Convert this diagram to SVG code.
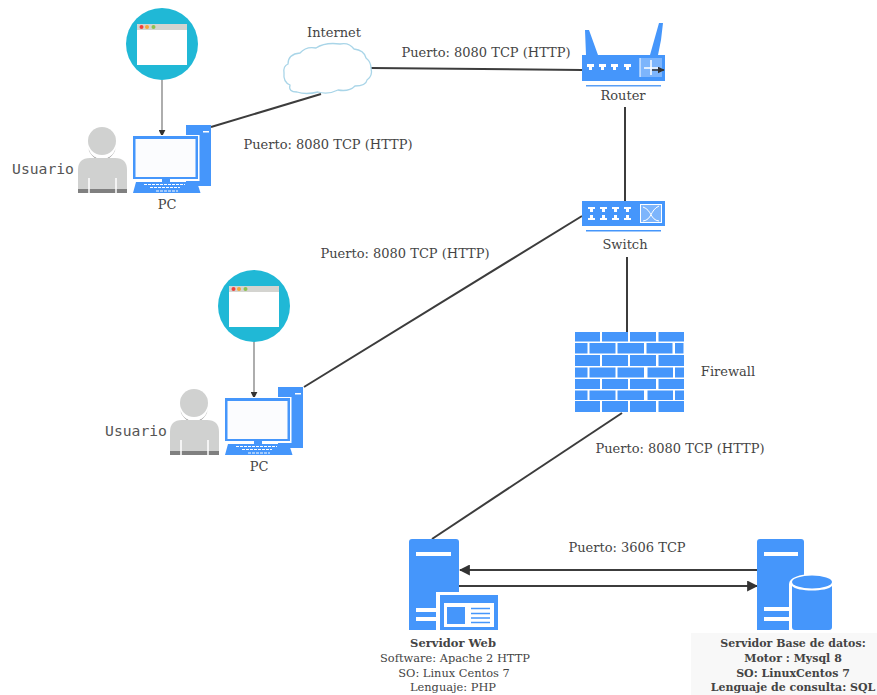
<svg xmlns="http://www.w3.org/2000/svg" width="877" height="695" viewBox="0 0 877 695">
<style>
text{font-family:"DejaVu Serif","Liberation Serif",serif;font-size:13px;fill:#444;text-anchor:middle}
.mono{font-family:"DejaVu Sans Mono","Liberation Mono",monospace;font-size:14.700px;fill:#555}
.b{fill:#4596fb}
.w{fill:#fff}
.bold{font-weight:bold;font-size:11.500px}
.db{font-weight:bold;font-size:11px}
.sm{font-size:11.400px}
.line{fill:none;stroke:#3c3c3c;stroke-width:2}
.thin{fill:none;stroke:#777;stroke-width:1.2}
</style>
<defs>
<marker id="ah" viewBox="0 0 10 10" refX="9" refY="5" markerWidth="7" markerHeight="7" markerUnits="userSpaceOnUse" orient="auto"><path d="M0 0L10 5L0 10Z" fill="#333"/></marker>
<marker id="ahl" viewBox="0 0 10 10" refX="9" refY="5" markerWidth="11" markerHeight="11" markerUnits="userSpaceOnUse" orient="auto"><path d="M0 0L10 5L0 10Z" fill="#333"/></marker>
<g id="browser">
<circle cx="162" cy="44" r="36" fill="#20b8d6"/>
<rect x="137" y="24" width="50" height="41" fill="#fff"/>
<rect x="137" y="24" width="50" height="6" fill="#d4d4d0"/>
<circle cx="141.500" cy="27" r="2" fill="#f0413c"/><circle cx="147" cy="27" r="2" fill="#f3a63a"/><circle cx="153.500" cy="27" r="2" fill="#8cc152"/>
</g>
<g id="person">
<circle cx="102" cy="141" r="14" fill="#d0d1d0"/>
<path d="M88 145a14 14 0 0 0 28 0a14 15 0 0 1-28 0Z" fill="#8c8c8c"/>
<path d="M78 193V170q0-12 12-12h25q12 0 12 12v23Z" fill="#d0d1d0"/>
<rect x="78" y="189" width="49" height="4" fill="#808080"/>
<path d="M89 178V193M116 178V193" stroke="#fff" stroke-width="1.500"/>
</g>
<g id="computer">
<rect x="186" y="125" width="25" height="61" class="b"/>
<rect x="203" y="131" width="6" height="1.500" class="w"/>
<rect x="132" y="135" width="67.500" height="46" fill="#fff"/>
<rect x="133" y="136" width="65" height="43" class="b"/>
<rect x="135.500" y="139" width="60" height="38" fill="#fbfcfe"/>
<rect x="162" y="179" width="8" height="3" class="b"/>
<path d="M136 182H197L200.500 193H133Z" class="b"/>
<path d="M144 184.500H185M150 187.500H180M156 191H178" stroke="#fff" stroke-width="1" stroke-dasharray="3 1"/>
</g>
</defs>

<g id="connectors">
<path class="line" d="M211 127L321 94"/>
<path class="line" d="M371 68L582 70"/>
<path class="line" d="M625 107V201"/>
<path class="line" d="M582 216L304 387"/>
<path class="line" d="M627 257V332"/>
<path class="line" d="M622 413L432 539"/>
<path class="line" d="M757 570H460" marker-end="url(#ahl)"/>
<path class="line" d="M459 586H757" marker-end="url(#ahl)"/>
<path class="thin" d="M162 80V136" marker-end="url(#ah)"/>
<path class="thin" d="M254 342V398" marker-end="url(#ah)"/>
</g>

<g id="browser1"><use href="#browser"/></g>
<g id="usuario1"><use href="#person"/><text class="mono" x="43" y="174">Usuario</text></g>
<g id="pc1"><use href="#computer"/><text x="167" y="209">PC</text></g>

<g id="browser2"><use href="#browser" x="92" y="262"/></g>
<g id="usuario2"><use href="#person" x="92" y="262"/><text class="mono" x="136" y="436">Usuario</text></g>
<g id="pc2"><use href="#computer" x="92" y="262"/><text x="259" y="471">PC</text></g>

<g id="internet">
<path d="M297 92Q288 92 290 85Q283 82 284 73Q283 66 288 64Q288 54 300 53Q306 46 316 48Q325 42 340 44Q349 42 354 49Q364 50 366 58Q371 62 371 68Q373 76 367 80Q366 86 355 86Q349 92 338 90Q328 95 318 92Q306 95 297 92Z" fill="#fff" stroke="#a9d5e8" stroke-width="1.300"/>
<text x="334" y="37">Internet</text>
</g>

<g id="router">
<path d="M586 55L585 30L589 30L598 55ZM650 55L659 23L663 23L661 40L658 55Z" class="b"/>
<rect x="582" y="55" width="83" height="26" class="b"/>
<rect x="640" y="58" width="22" height="19" fill="#7db5fc"/>
<path d="M640 58V77" stroke="#fff"/>
<path d="M651 60V75M644 68H658" stroke="#fff" stroke-width="1.500"/>
<path d="M587 64h7v3h-2v3h-3v-3h-2ZM599 64h7v3h-2v3h-3v-3h-2ZM611 64h7v3h-2v3h-3v-3h-2ZM624 64h7v3h-2v3h-3v-3h-2Z" class="w"/>
<path d="M652 70H664" stroke="#333" stroke-width="1.500" marker-end="url(#ah)"/>
<rect x="586" y="85" width="75" height="1.500" fill="#5a9ff5"/>
<text x="623" y="100">Router</text>
</g>

<g id="switch">
<rect x="582" y="201" width="83" height="25" class="b"/>
<path d="M588 207h7v2h-2v3h-3v-3h-2ZM600 207h7v2h-2v3h-3v-3h-2ZM612 207h7v2h-2v3h-3v-3h-2ZM624 207h7v2h-2v3h-3v-3h-2ZM588 220h7v-2h-2v-3h-3v3h-2ZM600 220h7v-2h-2v-3h-3v3h-2ZM612 220h7v-2h-2v-3h-3v3h-2ZM624 220h7v-2h-2v-3h-3v3h-2Z" class="w"/>
<rect x="640.500" y="204.500" width="21" height="18" fill="#7db5fc" stroke="#fff"/>
<path d="M643 207C652 210 650 220 659 221M659 206C650 210 652 220 643 221" fill="none" stroke="#fff"/>
<rect x="586" y="230" width="75" height="1.500" class="b"/>
<text x="625" y="249">Switch</text>
</g>

<g id="firewall">
<path class="b" d="M575 332h25v9.500h-25ZM602 332h26v9.500h-26ZM630 332h26v9.500h-26ZM658.500 332h25.500v9.500h-25.500ZM575 343h12.500v10.500h-12.500ZM589.500 343h26v10.500h-26ZM617.500 343h26.500v10.500h-26.500ZM646.500 343h26v10.500h-26ZM675 343h8.500v10.500h-8.500ZM575 355h25v11h-25ZM602 355h26v11h-26ZM630 355h26v11h-26ZM658.500 355h25.500v11h-25.500ZM575 367.500h12.500v10h-12.500ZM589.500 367.500h26v10h-26ZM617.500 367.500h26.500v10h-26.500ZM647.500 367.500h25.500v10h-25.500ZM675 367.500h9v10h-9ZM575 379h25v10h-25ZM602 379h26v10h-26ZM630 379h26v10h-26ZM658.500 379h25.500v10h-25.500ZM575 390.500h12.500v9.500h-12.500ZM589.500 390.500h26v9.500h-26ZM617.500 390.500h26.500v9.500h-26.500ZM647.500 390.500h25.500v9.500h-25.500ZM675 390.500h9v9.500h-9ZM575 401h25v11h-25ZM602 401h26v11h-26ZM630 401h26v11h-26ZM658.500 401h25.500v11h-25.500Z"/>
<text x="728" y="376">Firewall</text>
</g>

<g id="servidor-web">
<path class="b" d="M409 542q0-3 3-3h44q3 0 3 3v88h-50Z"/>
<rect x="416" y="552" width="35" height="4" class="w"/>
<rect x="416" y="608" width="24" height="4" class="w"/><rect x="416" y="617" width="24" height="4" class="w"/>
<rect x="436" y="592" width="63" height="38" fill="#fff"/>
<rect x="440" y="595" width="58" height="35" class="b"/>
<rect x="444" y="603" width="50" height="24" class="w"/>
<rect x="447" y="607" width="18" height="17" class="b"/>
<path d="M471 608.500H490M471 613.500H490M471 618H490M471 622.500H490" stroke="#4596fb" stroke-width="1.500"/>
<text class="bold" x="453" y="647">Servidor Web</text>
<text class="sm" x="455" y="662">Software: Apache 2 HTTP</text>
<text class="sm" x="454" y="677">SO: Linux Centos 7</text>
<text class="sm" x="453" y="691">Lenguaje: PHP</text>
</g>

<g id="servidor-bd">
<rect x="691" y="633" width="186" height="62" fill="#f8f8f8"/>
<path class="b" d="M757 542q0-3 3-3h41q3 0 3 3v88h-47Z"/>
<rect x="764" y="552" width="34" height="4" class="w"/>
<rect x="764" y="607" width="26" height="4" class="w"/><rect x="764" y="617" width="26" height="4" class="w"/>
<path d="M789 584c0-13 45-13 45 0v46h-45Z" fill="#fff"/>
<path d="M792 586v41q0 3 3 3h34q3 0 3-3v-41c-5 6-35 6-40 0Z" class="b"/>
<ellipse cx="812" cy="582" rx="20" ry="6.500" class="b"/>
<text class="db" x="793" y="647">Servidor Base de datos:</text>
<text class="db" x="793" y="662">Motor : Mysql 8</text>
<text class="db" x="793" y="677">SO: LinuxCentos 7</text>
<text class="db" x="793" y="691">Lenguaje de consulta: SQL</text>
</g>

<g id="labels">
<text x="486" y="57">Puerto: 8080 TCP (HTTP)</text>
<text x="328" y="149">Puerto: 8080 TCP (HTTP)</text>
<text x="405" y="258">Puerto: 8080 TCP (HTTP)</text>
<text x="680" y="453">Puerto: 8080 TCP (HTTP)</text>
<text x="627" y="552">Puerto: 3606 TCP</text>
</g>
</svg>
